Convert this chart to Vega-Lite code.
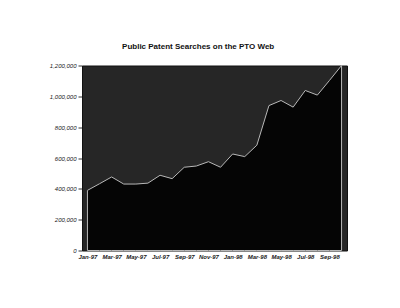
{
  "$schema": "https://vega.github.io/schema/vega-lite/v6.json",
  "width": 265,
  "height": 185,
  "padding": {"left": 49, "top": 42.5, "right": 10, "bottom": 5},
  "background": "#ffffff",
  "title": {
    "text": "Public Patent Searches on the PTO Web",
    "font": "Liberation Sans",
    "fontSize": 8,
    "fontWeight": "bold",
    "color": "#111111",
    "anchor": "middle",
    "frame": "bounds",
    "offset": 12
  },
  "config": {
    "view": {"fill": "#262626", "stroke": "#111111", "strokeWidth": 1},
    "axis": {"grid": false, "labelFont": "Liberation Sans", "labelColor": "#222222", "domainColor": "#111111", "tickColor": "#333333", "title": null}
  },
  "data": {
    "values": [
      {"month": "Jan-97", "searches": 390000},
      {"month": "Feb-97", "searches": 433000},
      {"month": "Mar-97", "searches": 477000},
      {"month": "Apr-97", "searches": 431000},
      {"month": "May-97", "searches": 431000},
      {"month": "Jun-97", "searches": 437000},
      {"month": "Jul-97", "searches": 488000},
      {"month": "Aug-97", "searches": 466000},
      {"month": "Sep-97", "searches": 540000},
      {"month": "Oct-97", "searches": 548000},
      {"month": "Nov-97", "searches": 576000},
      {"month": "Dec-97", "searches": 540000},
      {"month": "Jan-98", "searches": 626000},
      {"month": "Feb-98", "searches": 609000},
      {"month": "Mar-98", "searches": 683000},
      {"month": "Apr-98", "searches": 940000},
      {"month": "May-98", "searches": 973000},
      {"month": "Jun-98", "searches": 930000},
      {"month": "Jul-98", "searches": 1038000},
      {"month": "Aug-98", "searches": 1008000},
      {"month": "Sep-98", "searches": 1103000},
      {"month": "Oct-98", "searches": 1200000}
    ]
  },
  "mark": {"type": "area", "color": "#050505", "stroke": "#b8b8b8", "strokeWidth": 1, "opacity": 1},
  "encoding": {
    "x": {
      "field": "month",
      "type": "ordinal",
      "sort": null,
      "scale": {"type": "point", "padding": 0.45},
      "axis": {
        "values": ["Jan-97", "Mar-97", "May-97", "Jul-97", "Sep-97", "Nov-97", "Jan-98", "Mar-98", "May-98", "Jul-98", "Sep-98"],
        "labelAngle": 0,
        "labelFontSize": 6,
        "labelFontStyle": "italic",
        "labelFontWeight": "bold",
        "ticks": false,
        "labelPadding": 3,
        "domain": false
      }
    },
    "y": {
      "field": "searches",
      "type": "quantitative",
      "scale": {"domain": [0, 1200000], "nice": false},
      "axis": {
        "values": [0, 200000, 400000, 600000, 800000, 1000000, 1200000],
        "format": ",.0f",
        "labelFontSize": 6,
        "labelFontStyle": "italic",
        "tickSize": 4,
        "labelPadding": 2
      }
    }
  }
}
